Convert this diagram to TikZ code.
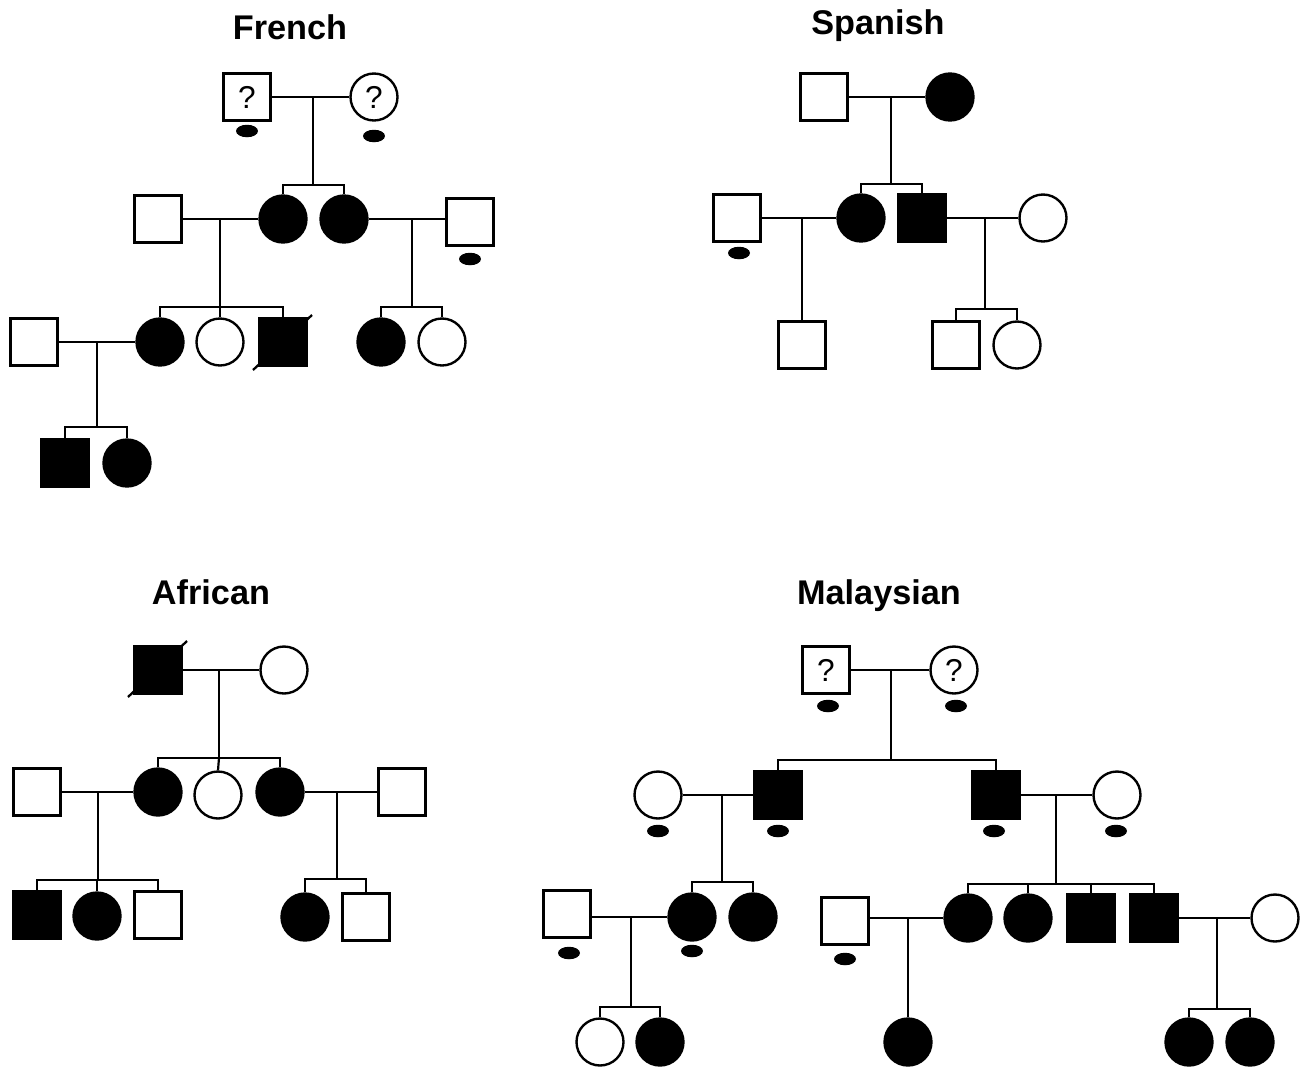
\documentclass[tikz,border=0pt]{standalone}
\usepackage{fontspec}
\setmainfont{Liberation Sans}
\usetikzlibrary{shapes.geometric}
\tikzset{
  sym/.style={draw, line width=1.35pt, minimum size=0.94cm, inner sep=0pt, font=\fontsize{18}{18}\selectfont},
  sq/.style={sym, rectangle},
  ci/.style={sym, circle},
  aff/.style={fill=black},
  carrier/.style={ellipse, fill=black, draw=none, minimum width=0.44cm, minimum height=0.25cm, inner sep=0pt},
  ln/.style={line width=1.25pt},
  ttl/.style={anchor=base, font=\fontsize{19.5}{19.5}\selectfont\bfseries, inner sep=0pt}
}
\begin{document}
\begin{tikzpicture}[x=0.02cm, y=-0.02cm]
\useasboundingbox (0,0) rectangle (1302,1066);
\fill[white] (0,0) rectangle (1302,1066);

% ================= French =================
\node[ttl] (tF) at (290,39) {French};
\node[sq] (fF1) at (247,97) {?};
\node[carrier] (fc1) at (247,131) {};
\node[ci] (fM1) at (374,97) {?};
\node[carrier] (fc2) at (374,136) {};
\coordinate (fa) at (313,97);
\coordinate (fas) at (313,185);
\draw[ln] (fF1) -- (fM1);
\draw[ln] (fa) -- (fas);
\node[ci,aff] (fD1) at (283,219) {};
\node[ci,aff] (fD2) at (344,219) {};
\draw[ln] (fD1.north) |- (fas) -| (fD2.north);
\node[sq] (fH1) at (158,219) {};
\node[sq] (fH2) at (470,222) {};
\node[carrier] (fc3) at (470,259) {};
\draw[ln] (fH1) -- (fD1);
\draw[ln] (fD2.east) -- (fD2.east -| fH2.west);
\coordinate (fb) at (220,219);
\coordinate (fbs) at (220,307);
\coordinate (fc) at (412,219);
\coordinate (fcs) at (412,307);
\draw[ln] (fb) -- (fbs);
\draw[ln] (fc) -- (fcs);
\node[ci,aff] (fG1) at (160,342) {};
\node[ci] (fG2) at (220,342) {};
\node[sq,aff] (fG3) at (283,342) {};
\draw[line width=1.3pt] (253,370) -- (312,315);
\draw[ln] (fG1.north) |- (fbs) -| (fG3.north);
\draw[ln] (fG2.north) -- (fbs);
\node[ci,aff] (fG4) at (381,342) {};
\node[ci] (fG5) at (442,342) {};
\draw[ln] (fG4.north) |- (fcs) -| (fG5.north);
\node[sq] (fH3) at (34,342) {};
\draw[ln] (fH3) -- (fG1);
\coordinate (fd) at (97,342);
\coordinate (fds) at (97,427);
\draw[ln] (fd) -- (fds);
\node[sq,aff] (fG6) at (65,463) {};
\node[ci,aff] (fG7) at (127,463) {};
\draw[ln] (fG6.north) |- (fds) -| (fG7.north);

% ================= Spanish =================
\node[ttl] (tS) at (878,34) {Spanish};
\node[sq] (sF1) at (824,97) {};
\node[ci,aff] (sM1) at (950,97) {};
\draw[ln] (sF1) -- (sM1);
\coordinate (sa) at (891,97);
\coordinate (sas) at (891,184);
\draw[ln] (sa) -- (sas);
\node[ci,aff] (sD1) at (861,218) {};
\node[sq,aff] (sD2) at (922,218) {};
\draw[ln] (sD1.north) |- (sas) -| (sD2.north);
\node[sq] (sH1) at (737,218) {};
\node[carrier] (sc1) at (739,253) {};
\draw[ln] (sH1) -- (sD1);
\node[ci] (sW1) at (1043,218) {};
\draw[ln] (sD2) -- (sW1);
\coordinate (sb) at (802,218);
\node[sq] (sG1) at (802,345) {};
\draw[ln] (sb) -- (sG1.north);
\coordinate (sc) at (985,218);
\coordinate (scs) at (985,309);
\draw[ln] (sc) -- (scs);
\node[sq] (sG2) at (956,345) {};
\node[ci] (sG3) at (1017,345) {};
\draw[ln] (sG2.north) |- (scs) -| (sG3.north);

% ================= African =================
\node[ttl] (tA) at (211,604) {African};
\node[sq,aff] (aF1) at (158,670) {};
\draw[line width=1.3pt] (128,697) -- (187,641);
\node[ci] (aM1) at (284,670) {};
\draw[ln] (aF1) -- (aM1);
\coordinate (aa) at (219,670);
\coordinate (aas) at (219,758);
\draw[ln] (aa) -- (aas);
\node[ci,aff] (aD1) at (158,792) {};
\node[ci] (aD2) at (218,795) {};
\node[ci,aff] (aD3) at (280,792) {};
\draw[ln] (aD1.north) |- (aas) -| (aD3.north);
\draw[ln] (aD2.north) -- (aas);
\node[sq] (aH1) at (37,792) {};
\draw[ln] (aH1) -- (aD1);
\node[sq] (aH2) at (402,792) {};
\draw[ln] (aD3) -- (aH2);
\coordinate (ab) at (98,792);
\coordinate (abs) at (98,880);
\draw[ln] (ab) -- (abs);
\node[sq,aff] (aG1) at (37,915) {};
\node[ci,aff] (aG2) at (97,916) {};
\node[sq] (aG3) at (158,915) {};
\draw[ln] (aG1.north) |- (abs) -| (aG3.north);
\draw[ln] (aG2.north) -- (aG2.north |- abs);
\coordinate (ac) at (337,792);
\coordinate (acs) at (337,879);
\draw[ln] (ac) -- (acs);
\node[ci,aff] (aG4) at (305,917) {};
\node[sq] (aG5) at (366,917) {};
\draw[ln] (aG4.north) |- (acs) -| (aG5.north);

% ================= Malaysian =================
\node[ttl] (tM) at (879,604) {Malaysian};
\node[sq] (mF1) at (826,670) {?};
\node[carrier] (mc1) at (828,706) {};
\node[ci] (mM1) at (954,670) {?};
\node[carrier] (mc2) at (956,706) {};
\draw[ln] (mF1) -- (mM1);
\coordinate (ma) at (891,670);
\coordinate (mas) at (891,760);
\draw[ln] (ma) -- (mas);
\node[sq,aff] (mS1) at (778,795) {};
\node[carrier] (mc3) at (778,831) {};
\node[sq,aff] (mS2) at (996,795) {};
\node[carrier] (mc4) at (994,831) {};
\draw[ln] (mS1.north) |- (mas) -| (mS2.north);
% left branch
\node[ci] (mW1) at (658,795) {};
\node[carrier] (mc5) at (658,831) {};
\draw[ln] (mW1) -- (mS1);
\coordinate (mb) at (722,795);
\coordinate (mbs) at (722,882);
\draw[ln] (mb) -- (mbs);
\node[ci,aff] (mG1) at (692,917) {};
\node[carrier] (mc6) at (692,951) {};
\node[ci,aff] (mG2) at (753,917) {};
\draw[ln] (mG1.north) |- (mbs) -| (mG2.north);
\node[sq] (mH1) at (567,914) {};
\node[carrier] (mc7) at (569,953) {};
\draw[ln] (mG1.west) -- (mG1.west -| mH1.east);
\coordinate (mc) at (631,917);
\coordinate (mcs) at (631,1007);
\draw[ln] (mc) -- (mcs);
\node[ci] (mK1) at (600,1042) {};
\node[ci,aff] (mK2) at (660,1042) {};
\draw[ln] (mK1.north) |- (mcs) -| (mK2.north);
% right branch
\node[ci] (mW2) at (1117,795) {};
\node[carrier] (mc8) at (1116,831) {};
\draw[ln] (mS2) -- (mW2);
\coordinate (md) at (1056,795);
\coordinate (mds) at (1056,884);
\draw[ln] (md) -- (mds);
\node[ci,aff] (mG3) at (968,918) {};
\node[ci,aff] (mG4) at (1028,918) {};
\node[sq,aff] (mG5) at (1091,918) {};
\node[sq,aff] (mG6) at (1154,918) {};
\draw[ln] (mG3.north) |- (mds) -| (mG6.north);
\draw[ln] (mG4.north) -- (mG4.north |- mds);
\draw[ln] (mG5.north) -- (mG5.north |- mds);
\node[sq] (mH2) at (845,921) {};
\node[carrier] (mc9) at (845,959) {};
\draw[ln] (mG3.west) -- (mG3.west -| mH2.east);
\coordinate (me) at (908,918);
\node[ci,aff] (mK3) at (908,1042) {};
\draw[ln] (me) -- (mK3.north);
\node[ci] (mW3) at (1275,918) {};
\draw[ln] (mG6) -- (mW3);
\coordinate (mf) at (1217,918);
\coordinate (mfs) at (1217,1009);
\draw[ln] (mf) -- (mfs);
\node[ci,aff] (mK4) at (1189,1042) {};
\node[ci,aff] (mK5) at (1250,1042) {};
\draw[ln] (mK4.north) |- (mfs) -| (mK5.north);
\end{tikzpicture}
\end{document}
